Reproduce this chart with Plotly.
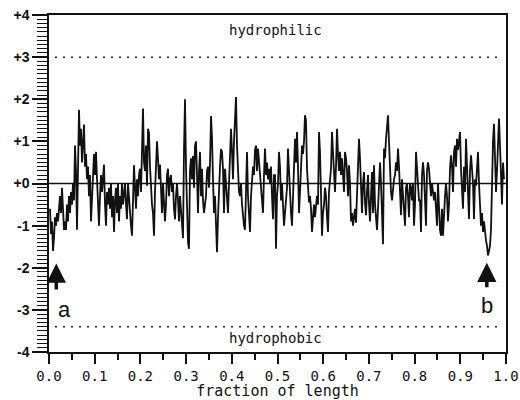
import numpy as np
import plotly.graph_objects as go

# hydropathy values, one per pixel column, left to right
seg_a = [-0.6, -1.2, -0.9, -1.6, -1.3, -0.8, -1.0, -0.7, -0.9, -0.5, -0.3, -0.7, -0.1, -0.6, -1.1,
         -0.9, -1.1, -0.5, -0.9, -0.3, -0.7, -0.2, -0.5, 0.0, -0.4, 0.9, 0.3, -1.1, 0.6, 1.75,
         0.9, 1.3, 0.5, 1.0, 1.4, 0.4, 0.7, 0.1, 0.4, -0.3, 0.2, -0.9, -0.2, 0.3, 0.7,
         0.2, 0.75, 0.1, -0.4, -1.0, -0.3, 0.2, -0.2, 0.1, 0.45, -0.5, -1.0, -0.2, -0.5, -0.1,
         -0.6, 0.0, -0.8, -0.3, -1.15, -0.4, -0.1, -0.7, 0.0, -0.9, -0.3, -0.6, 0.0, -0.5, -0.2]
seg_b = [0.0, -0.5, -0.85, 0.0, -0.4, -0.9, -1.0, -1.24, -0.3, 0.43, -0.1, -0.6, 0.1, -0.3, 0.2,
         0.35, -0.2, 1.2, 1.78, 0.5, 0.3, 0.9, -0.05, 1.3, 1.2, 0.4, -0.1, -0.5, -0.7, -1.24,
         -0.2, 0.6, 1.0, 0.6, 0.1, 0.45, -0.3, -0.7, 0.0, -0.4, -0.9, -0.5, 0.2, 0.35, -0.3,
         0.1, 0.2, -0.2, 0.0, -0.6, -0.85, -0.3, 0.0, -0.4, -0.9, -0.3, -0.7, -1.0, -1.3, 0.8,
         2.0, 0.4, -0.5, -1.4, -1.55, 0.3, 0.6, 0.1, 0.65, -0.1]
seg_c = [0.9, 1.0, 0.2, -0.7, 0.3, 0.75, -0.3, 0.35, -0.4, -0.7, -0.5, -0.3, 0.3, 0.4, -0.1,
         0.45, 1.6, 1.1, 0.1, -0.7, -0.3, -1.2, -1.63, -0.8, 0.0, 0.4, 0.82, 0.75, 0.35, -0.7,
         0.35, -0.05, -0.6, -0.7, 0.0, 0.6, 1.3, 0.75, 0.1, 1.0, 1.6, 2.05, 0.9, 0.1, -0.2,
         -0.3, 0.0, -0.5, -0.9, -1.0, -1.1, 0.1, 0.75, -0.3, -0.8, -1.15, -0.3, 0.1, 0.4, 0.2,
         0.8, 0.9, 0.3, 0.83, 0.5, 0.3, -0.2, -0.5, -0.7, 0.2, 0.83, 0.2, 0.5, 0.1, 0.35,
         0.0, 0.4, -0.3, -0.85, 0.2]
seg_d = [0.2, -1.55, -0.3, 0.0, 0.75, 0.4, -0.4, 0.0, -0.6, -1.0, -0.7, -0.3, -0.1, 0.83, 0.2,
         -0.5, -0.7, -1.0, -0.2, 0.3, 1.06, 0.5, 1.22, 0.4, -0.7, -0.2, 0.6, 0.9, 0.7, 1.0,
         1.62, 1.5, 0.35, -0.05, -0.45, -0.3, -0.6, -1.15, -0.7, -0.5, -0.8, -0.6, -0.3, -0.5, 1.22,
         0.75, -0.3, -1.24, -0.7, -0.5, -0.1, -0.3, -0.8, -1.15, -0.2, 0.0, 0.35, 1.22, 0.6, 0.3,
         -0.2, 0.4, 1.3, 0.7, 0.3, 0.75, 0.2, 0.6, 0.3, -0.2]
seg_e = [0.75, 0.6, 0.3, -0.3, 0.43, 0.0, -0.9, -0.7, -1.0, -0.7, -0.6, -0.93, -0.3, 0.1, 1.06,
         0.6, -0.3, -0.7, 0.0, 0.27, -0.45, -0.75, -0.2, 0.2, -0.5, -0.9, -0.3, 0.27, -0.7, 0.43,
         -0.5, -0.85, -1.1, -0.6, 0.1, 0.5, 0.0, -0.8, -1.44, 0.83, 0.6, 1.06, 1.3, 1.62, 1.0,
         0.35, -0.2, -0.4, 0.0, 0.1, 0.2, 0.5, 0.3, 0.83, 0.4, -0.4, -0.75, 0.1, -0.2, -0.7,
         -1.0, -0.1, 0.0, -0.3, -0.8, 0.0, -0.1, -0.4, 0.0, -1.0, -0.5, 0.75, 0.3, 0.0, -0.4]
seg_f = [-0.4, -1.15, 0.2, 0.5, 0.2, -0.6, -1.0, 0.3, 0.5, 0.35, 0.1, -0.3, 0.0, -0.3, -0.4,
         -0.2, -0.6, -1.0, 0.0, -0.8, -1.1, -1.24, -0.6, -1.24, -0.6, -0.3, 0.0, -0.3, -0.9, -0.5,
         0.35, 0.67, 0.4, -0.2, 0.75, 0.9, 0.4, 1.06, 0.8, 1.0, 1.22, 0.35, -0.3, -0.6, 0.4,
         -0.2, 1.06, 0.5, -0.2, -0.84, 0.3, 0.67, 0.35, 0.0, -0.84, 0.1, -0.05, 0.3, 0.75, 0.0,
         -0.6, -1.0, -0.7, -1.15, -0.9, -1.24, -1.35, -1.48, -1.71, -1.6, -1.48, -1.1, 0.3, 1.0, 1.42,
         0.8, -0.2, 0.3, 1.0, 1.54, 0.9, -0.1, -0.5, 0.5, 0.1]

y_ticks = [4, 3, 2, 1, 0, -1, -2, -3, -4]
y_labels = ['+4', '+3', '+2', '+1', '+0', '-1', '-2', '-3', '-4']
x_ticks = [0.0, 0.1, 0.2, 0.3, 0.4, 0.5, 0.6, 0.7, 0.8, 0.9, 1.0]
x_labels = ['0.0', '0.1', '0.2', '0.3', '0.4', '0.5', '0.6', '0.7', '0.8', '0.9', '1.0']

hydro = np.array(seg_a + seg_b + seg_c + seg_d + seg_e + seg_f)
frac = (np.arange(len(hydro)) + 1) / 457.0

mono = 'DejaVu Sans Mono'

fig = go.Figure()
fig.add_trace(go.Scatter(x=frac, y=hydro, mode='lines',
                         line=dict(color='#111', width=1.8), showlegend=False))

# zero line and the dotted hydrophilic / hydrophobic limits
fig.add_shape(type='line', xref='paper', yref='y', x0=0, x1=1, y0=0, y1=0,
              line=dict(color='#111', width=1.5))
for lvl in [3, -3.4]:
    fig.add_shape(type='line', xref='x', yref='y', x0=0.013, x1=0.99, y0=lvl, y1=lvl,
                  line=dict(color='#222', width=1.5, dash='2px,6px'))

fig.add_annotation(x=0.495, y=3.64, text='hydrophilic', showarrow=False,
                   font=dict(family=mono, size=14, color='#111'))
fig.add_annotation(x=0.495, y=-3.67, text='hydrophobic', showarrow=False,
                   font=dict(family=mono, size=14, color='#111'))

# arrows a and b
for ax_, tip, tail, lab, laby in [(0.016, -1.9, -2.55, 'a', -3.0), (0.958, -1.88, -2.5, 'b', -2.9)]:
    fig.add_annotation(x=ax_, y=tip, ax=ax_, ay=tail, axref='x', ayref='y', text='',
                       showarrow=True, arrowhead=2, arrowsize=1.1, arrowwidth=3.5, arrowcolor='#111')
    fig.add_annotation(x=ax_, y=laby, text=lab, showarrow=False, xanchor='left' if lab == 'a' else 'center',
                       font=dict(family='Liberation Sans', size=22, color='#111'))

fig.update_xaxes(range=[0, 1], tickvals=x_ticks, ticktext=x_labels, automargin=False,
                 ticks='outside', ticklen=10, tickwidth=1.5, tickcolor='#111',
                 minor=dict(dtick=0.05, tick0=0, ticks='outside', ticklen=6, tickwidth=1.5, tickcolor='#111'),
                 showline=True, linewidth=1.5, linecolor='#111', mirror=True,
                 showgrid=False, zeroline=False,
                 tickfont=dict(family=mono, size=14, color='#111'),
                 title=dict(text='fraction of length', font=dict(family=mono, size=15, color='#111'), standoff=2))
fig.update_yaxes(range=[-4, 4], tickvals=y_ticks, ticktext=y_labels, automargin=False,
                 ticks='outside', ticklen=15, tickwidth=1.5, tickcolor='#111',
                 minor=dict(dtick=0.1, tick0=0, ticks='outside', ticklen=10, tickwidth=1.2, tickcolor='#111'),
                 showline=True, linewidth=1.5, linecolor='#111', mirror=True,
                 showgrid=False, zeroline=False,
                 tickfont=dict(family='Liberation Sans', size=14, color='#111', weight='bold'))

fig.update_layout(width=520, height=400, margin=dict(l=49, r=14, t=15, b=48),
                  paper_bgcolor='white', plot_bgcolor='white')

# drop the page's default body margin so the figure fills the window
fig.write_html("out.html", config={'displayModeBar': False},
               post_script="document.body.style.margin='0';")
